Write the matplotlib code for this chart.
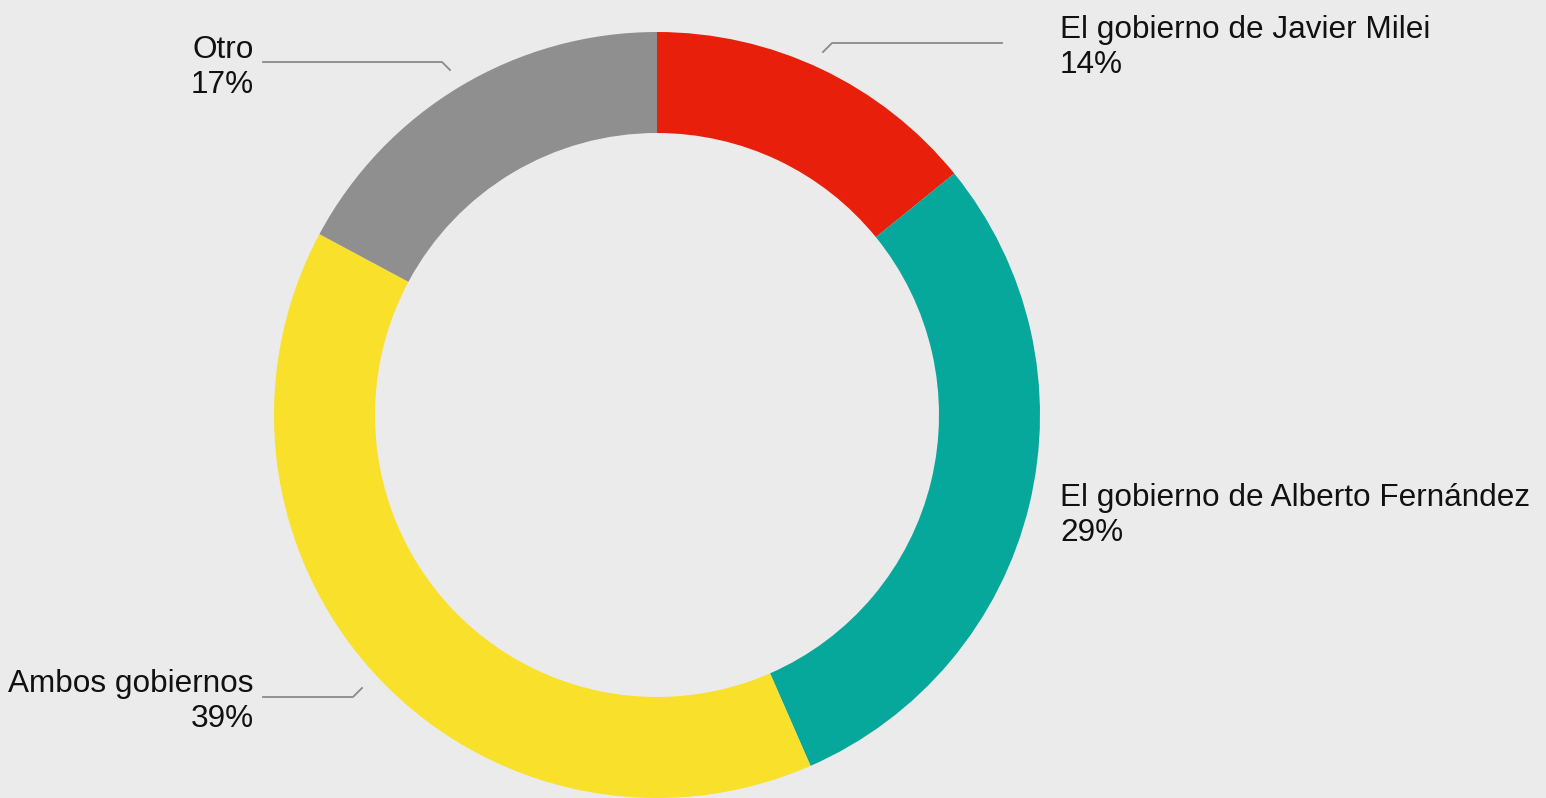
import matplotlib.pyplot as plt

# data
labels = ["El gobierno de Javier Milei", "El gobierno de Alberto Fernández",
          "Ambos gobiernos", "Otro"]
values = [14, 29, 39, 17]
pct_labels = ["14%", "29%", "39%", "17%"]
colors = ["#e81f0a", "#06a89b", "#f8e02b", "#8f8f8f"]

W, H = 1546, 798
bg = "#ebebeb"

fig = plt.figure(figsize=(W / 100, H / 100), dpi=100, facecolor=bg)
ax = fig.add_axes([0, 0, 1, 1])
ax.set_facecolor(bg)

cx, cy = 657, H - 415
r_out, r_in = 383, 282

ax.pie(values, colors=colors, startangle=90, counterclock=False,
       center=(cx, cy), radius=r_out, frame=True,
       wedgeprops=dict(width=r_out - r_in, edgecolor="none", linewidth=0))
ax.set_xlim(0, W)
ax.set_ylim(0, H)
ax.set_aspect("equal")
ax.axis("off")

fs = 22.7
font = "Liberation Sans"

def label(x, y, txt, ha):
    ax.text(x, H - y, txt, ha=ha, va="top", fontsize=fs, family=font,
            color="#111111", linespacing=1.2, multialignment=ha)

label(1060, 15, labels[0] + "\n" + pct_labels[0], "left")
label(1060, 483, labels[1] + "\n" + pct_labels[1], "left")
label(254, 669, labels[2] + "\n" + pct_labels[2], "right")
label(254, 35, labels[3] + "\n" + pct_labels[3], "right")

# leader lines
lc = "#8a8a8a"
ax.plot([823, 832, 1002], [H - 52, H - 43, H - 43], color=lc, lw=1.3)
ax.plot([263, 442, 450], [H - 62, H - 62, H - 70], color=lc, lw=1.3)
ax.plot([263, 353, 362], [H - 697, H - 697, H - 688], color=lc, lw=1.3)

fig.savefig("out.png", dpi=100, facecolor=bg)
